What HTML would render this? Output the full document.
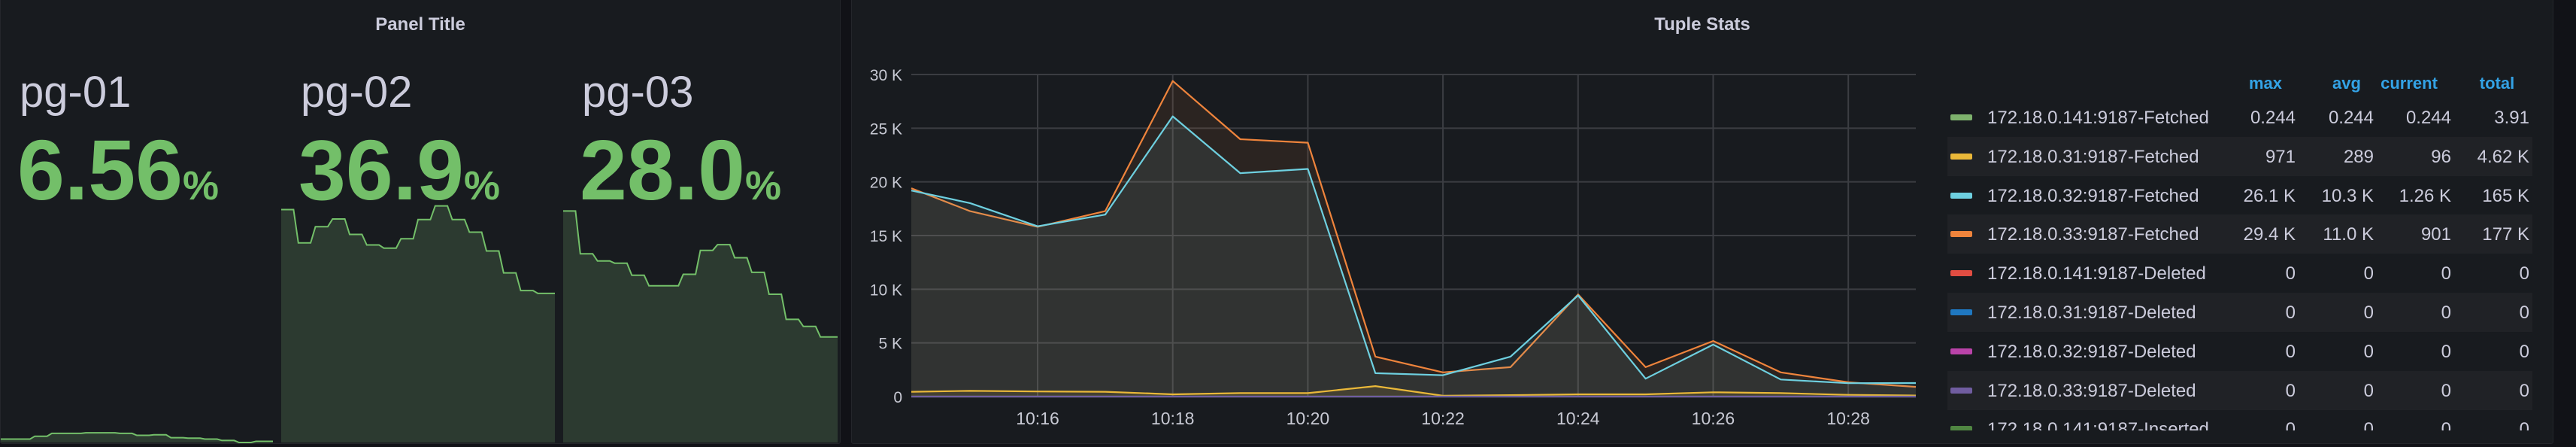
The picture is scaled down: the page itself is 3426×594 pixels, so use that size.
<!DOCTYPE html>
<html><head><meta charset="utf-8">
<style>
html,body{margin:0;padding:0;background:#111217;width:3426px;height:594px;overflow:hidden;font-family:"Liberation Sans",sans-serif;}
.panel{position:absolute;background:#181b1f;border:1px solid #24262b;border-radius:3px;box-sizing:border-box;overflow:hidden;}
.title{position:absolute;top:18px;left:0;right:0;text-align:center;color:#ccccdc;font-size:24px;font-weight:bold;}
.stat-name{position:absolute;color:#ccccdc;font-size:58px;top:92px;}
.stat-val{position:absolute;color:#73bf69;font-size:113px;font-weight:bold;top:164px;white-space:nowrap;}
.stat-val span{font-size:54px;}
svg text{font-family:"Liberation Sans",sans-serif;}
.legend{position:absolute;left:2590px;top:80px;width:780px;height:492px;overflow:hidden;}
.lrow{position:absolute;left:0;width:778px;height:52px;font-size:24px;color:#ccccdc;}
.lrow.alt{background:#202226;}
.sw{position:absolute;left:4px;top:22px;width:29px;height:8px;border-radius:2px;}
.lname{position:absolute;left:53px;top:13px;white-space:nowrap;}
.lv{position:absolute;top:13px;text-align:right;width:120px;}
.lh{position:absolute;top:18px;color:#33a2e5;font-size:22px;font-weight:bold;text-align:center;width:100px;}
</style></head>
<body>
<div class="panel" style="left:0;top:-4px;width:1118px;height:594px;">
  <div class="title" style="top:22px;">Panel Title</div>
  <svg id="spark" width="1118" height="594" style="position:absolute;left:0;top:0"></svg>
  <div class="stat-name" style="left:25px">pg-01</div>
  <div class="stat-val" style="left:22px">6.56<span>%</span></div>
  <div class="stat-name" style="left:399px">pg-02</div>
  <div class="stat-val" style="left:396px">36.9<span>%</span></div>
  <div class="stat-name" style="left:773px">pg-03</div>
  <div class="stat-val" style="left:770px">28.0<span>%</span></div>
</div>

<div class="panel" style="left:1132px;top:-4px;width:2264px;height:594px;">
  <div class="title" style="top:22px;">Tuple Stats</div>
</div>
<svg id="chart" width="3426" height="594" style="position:absolute;left:0;top:0"></svg>

<div class="legend">
  <div class="lh" style="left:373px">max</div>
  <div class="lh" style="left:481px">avg</div>
  <div class="lh" style="left:564px">current</div>
  <div class="lh" style="left:681px">total</div>
  <div id="lrows"></div>
</div>

<script>
// ---- sparkline data (relative units) ----
const pg01Vals=[12,12,22,32,32,34,34,32,25,27,17,15,12,7,0,4];
const pg02Vals=[817,700,757,784,730,693,682,715,782,830,782,738,672,595,533,523];
const pg03Vals=[812,662,637,629,587,550,550,590,674,694,648,597,520,432,407,370];

// ---- tuple stats data ----
const times=[14.13,15,16,17,18,19,20,21,22,23,24,25,26,27,28,29];
const s33=[19400,17270,15810,17270,29400,23970,23650,3720,2260,2740,9510,2740,5180,2260,1330,901];
const s32=[19190,18020,15860,16950,26100,20810,21200,2180,1990,3720,9430,1670,4840,1590,1250,1260];
const s31=[450,530,480,450,210,320,320,971,80,130,210,210,400,320,160,96];
const sZero=[0,0,0,0,0,0,0,0,0,0,0,0,0,0,0,0];
const yTicks=[0,5000,10000,15000,20000,25000,30000];
const yTickLabels=["0","5 K","10 K","15 K","20 K","25 K","30 K"];
const xTicks=[16,18,20,22,24,26,28];
const xTickLabels=["10:16","10:18","10:20","10:22","10:24","10:26","10:28"];

const legendNames=["172.18.0.141:9187-Fetched","172.18.0.31:9187-Fetched","172.18.0.32:9187-Fetched","172.18.0.33:9187-Fetched","172.18.0.141:9187-Deleted","172.18.0.31:9187-Deleted","172.18.0.32:9187-Deleted","172.18.0.33:9187-Deleted","172.18.0.141:9187-Inserted"];
const legendColors=["#7eb26d","#eab839","#6ed0e0","#ef843c","#e24d42","#1f78c1","#ba43a9","#705da0","#508642"];
const legendMax=["0.244","971","26.1 K","29.4 K","0","0","0","0","0"];
const legendAvg=["0.244","289","10.3 K","11.0 K","0","0","0","0","0"];
const legendCur=["0.244","96","1.26 K","901","0","0","0","0","0"];
const legendTot=["3.91","4.62 K","165 K","177 K","0","0","0","0","0"];

const NS="http://www.w3.org/2000/svg";
function mk(parent,tag,attrs){const e=document.createElementNS(NS,tag);for(const k in attrs)e.setAttribute(k,attrs[k]);parent.appendChild(e);return e;}

// sparklines
const sp=document.getElementById('spark');
function spark(vals,x0,x1,name){
  const bottom=591,step=(x1-x0)/vals.length;
  const sy=v=>bottom-v/2.64;
  let pts=[];
  vals.forEach((v,i)=>{pts.push([x0+i*step,sy(v)]);pts.push([x0+i*step+step*0.72,sy(v)]);});
  pts.push([x1,sy(vals[vals.length-1])-0]);
  const d=pts.map((p,i)=>(i?'L':'M')+p[0].toFixed(1)+','+p[1].toFixed(1)).join('');
  const a=mk(sp,'path',{d:d+`L${x1},${bottom}L${x0},${bottom}Z`,fill:'#2c3a30'});
  
  
  const l=mk(sp,'path',{d:d,fill:'none',stroke:'#73bf69','stroke-width':2});
  
  
}
spark(pg01Vals,0,362,'pg-01-sparkline');
spark(pg02Vals,373,737,'pg-02-sparkline');
spark(pg03Vals,748,1113,'pg-03-sparkline');

// chart
const ch=document.getElementById('chart');
const L=1212,R=2548,T=99,B=527;
const xs=t=>L+(t-14.13)*(R-L)/(29-14.13);
const ys=v=>B-v*(B-T)/30000;
yTicks.forEach((v,i)=>{
  const g=mk(ch,'line',{x1:L,x2:R,y1:ys(v),y2:ys(v),stroke:'#3b3d42','stroke-width':2});
  
  
  const t=mk(ch,'text',{x:1200,y:ys(v)+8,'text-anchor':'end',fill:'#c7c9d3','font-size':21});
  t.textContent=yTickLabels[i];
  
  
});
xTicks.forEach((m,i)=>{
  const g=mk(ch,'line',{x1:xs(m),x2:xs(m),y1:T,y2:B,stroke:'#3b3d42','stroke-width':2});
  
  
  const t=mk(ch,'text',{x:xs(m),y:564,'text-anchor':'middle',fill:'#c7c9d3','font-size':23});
  t.textContent=xTickLabels[i];
  
  
});
function series(vals,color,name,fillOp){
  const d=vals.map((v,i)=>(i?'L':'M')+xs(times[i]).toFixed(1)+','+ys(v).toFixed(1)).join('');
  const a=mk(ch,'path',{d:d+`L${xs(times[times.length-1])},${B}L${xs(times[0])},${B}Z`,fill:color,'fill-opacity':fillOp});
  
  
  const l=mk(ch,'path',{d:d,fill:'none',stroke:color,'stroke-width':2.2,'stroke-linejoin':'round'});
  
  
}
series(s33,'#ef843c','series-172-18-0-33-fetched',0.09);
series(s32,'#6ed0e0','series-172-18-0-32-fetched',0.09);
series(s31,'#eab839','series-172-18-0-31-fetched',0.1);
series(sZero,'#7eb26d','series-172-18-0-141-fetched',0.1);
series(sZero,'#705da0','series-deleted-zero',0.1);

// legend
const lr=document.getElementById('lrows');
legendNames.forEach((n,i)=>{
  const r=document.createElement('div');
  r.className='lrow'+(i%2?' alt':'');
  r.style.top=(50+i*51.8)+'px';
  
  
  r.innerHTML=`<div class="sw" style="background:${legendColors[i]}"></div><div class="lname">${n}</div>`+
    `<div class="lv" style="left:343px">${legendMax[i]}</div><div class="lv" style="left:447px">${legendAvg[i]}</div>`+
    `<div class="lv" style="left:550px">${legendCur[i]}</div><div class="lv" style="left:654px">${legendTot[i]}</div>`;
  lr.appendChild(r);
});
</script>
</body></html>
